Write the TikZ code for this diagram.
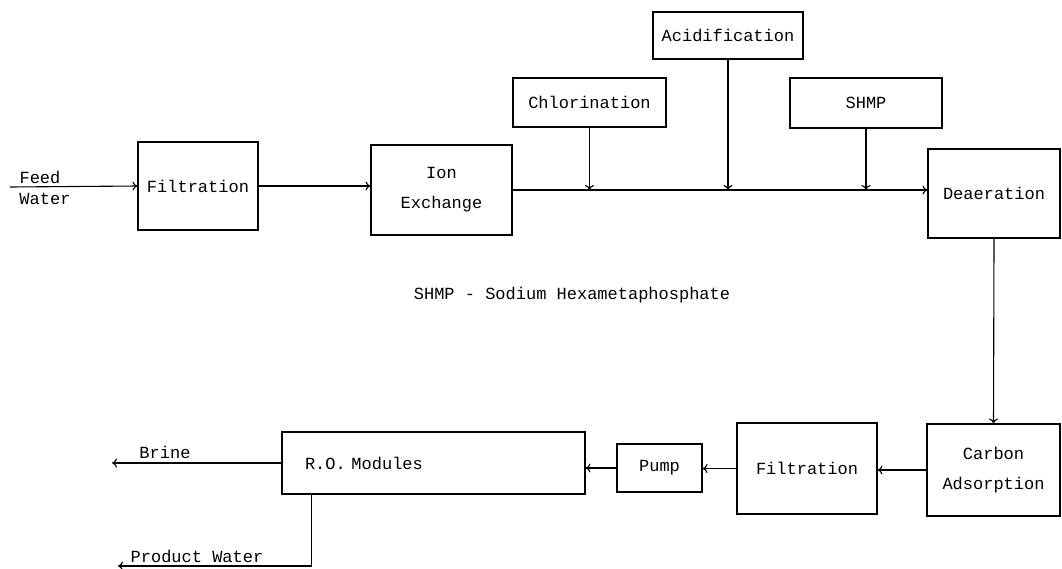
\documentclass[tikz,border=0pt]{standalone}
\usepackage{fontspec}
\setmonofont{Liberation Mono}
\usetikzlibrary{arrows.meta}
\begin{document}
\begin{tikzpicture}[x=1pt,y=-1pt,line width=1.1pt,>={To[length=5pt,width=9pt]},
    font=\ttfamily\fontsize{17}{20}\selectfont,
    box/.style={draw, rectangle, inner sep=0pt}]
    \useasboundingbox (0,0) rectangle (1062,568);

    \node[box, minimum width=120, minimum height=88] (filt1) at (198,186) {Filtration};
    \node[box, minimum width=141, minimum height=90, align=center] (ion) at (441.5,190) {Ion\\[10pt]Exchange};
    \node[box, minimum width=153, minimum height=49] (chlor) at (589.5,102.5) {Chlorination};
    \node[box, minimum width=150, minimum height=47] (acid) at (728,35.5) {Acidification};
    \node[box, minimum width=152, minimum height=50] (shmp) at (866,103) {SHMP};
    \node[box, minimum width=132, minimum height=89] (deaer) at (994,193.5) {Deaeration};
    \node[box, minimum width=133, minimum height=92, align=center] (carbon) at (993.5,470) {Carbon\\[10pt]Adsorption};
    \node[box, minimum width=140, minimum height=91] (filt2) at (807,468.5) {Filtration};
    \node[box, minimum width=85, minimum height=48] (pump) at (659.5,468) {Pump};
    \node[box, text width=257pt, inner xsep=23pt, minimum height=62, align=left] (ro) at (433.5,463) {\frenchspacing R.O. Modules};

    \coordinate (feed) at (10,187);
    \coordinate (brine) at (112,463);
    \coordinate (prod) at (118,566);

    \draw[->] (feed) -- (filt1.west);
    \node (feedtxt) at (40,177) {Feed};
    \node (watertxt) at (45,199) {Water};
    \draw[->] (filt1.east) -- (filt1.east -| ion.west);
    \draw[->] (ion.east) -- (ion.east -| deaer.west);
    \draw[->] (chlor.south) -- (chlor.south |- ion.east);
    \draw[->] (acid.south) -- (acid.south |- ion.east);
    \draw[->] (shmp.south) -- (shmp.south |- ion.east);

    \node (note) at (572,295) {SHMP - Sodium Hexametaphosphate};

    \draw[->] (deaer.south) -- (carbon.north);
    \draw[->] (carbon.west) -- (carbon.west -| filt2.east);
    \draw[->] (filt2.west) -- (filt2.west -| pump.east);
    \draw[->] (pump.west) -- (pump.west -| ro.east);

    \draw[->] (ro.west) -- (brine);
    \node (brinetxt) at (165,452) {Brine};
    \draw[->] ([xshift=30pt]ro.south west) |- (prod);
    \node (prodtxt) at (197,556) {Product Water};
\end{tikzpicture}
\end{document}
